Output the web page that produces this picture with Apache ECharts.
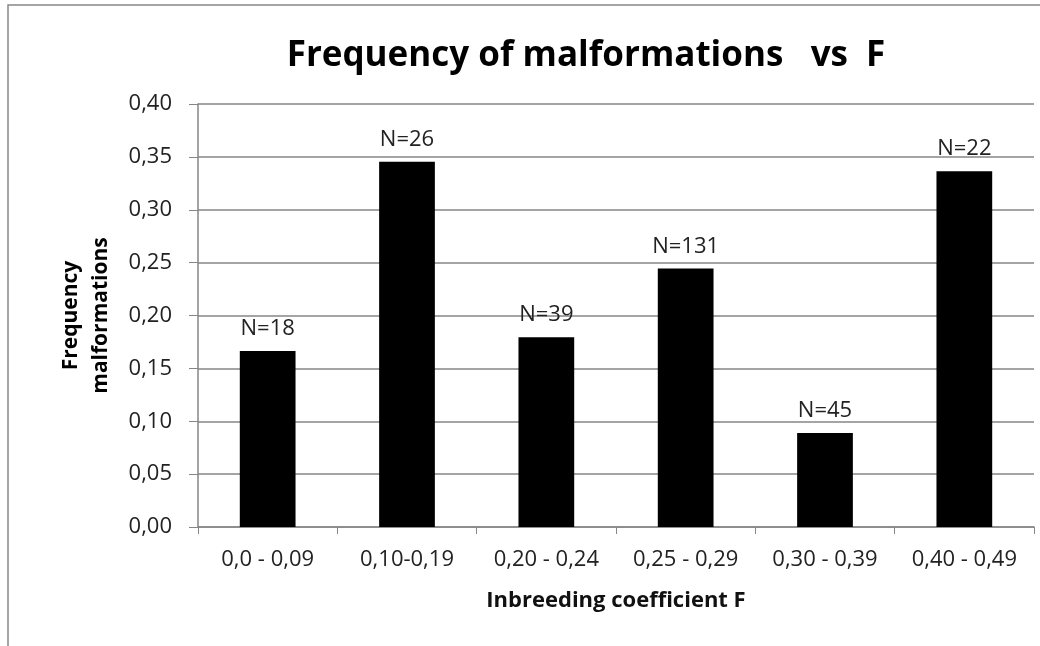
<!DOCTYPE html>
<html>
<head>
<meta charset="utf-8">
<script src="https://cdn.jsdelivr.net/npm/echarts@6/dist/echarts.min.js"></script>
<style>
  html, body { margin: 0; padding: 0; background: #fff; }
  #chart { width: 1040px; height: 646px; }
</style>
</head>
<body>
<div id="chart"></div>
<script>
const categories = ["0,0 - 0,09", "0,10-0,19", "0,20 - 0,24", "0,25 - 0,29", "0,30 - 0,39", "0,40 - 0,49"];
const frequency = [0.1665, 0.3455, 0.1795, 0.2445, 0.0889, 0.3365];
const sampleSize = [18, 26, 39, 131, 45, 22];

const chart = echarts.init(document.getElementById("chart"));
const font = "'Open Sans', sans-serif";

const option = {
  animation: false,
  backgroundColor: "#fff",
  graphic: [
    {
      type: "rect",
      shape: { x: 8, y: 5, width: 1060, height: 700 },
      style: { fill: "none", stroke: "#888", lineWidth: 1.5 },
    },
  ],
  title: {
    text: "Frequency of malformations   vs  F",
    left: 581,
    top: 34,
    textAlign: "center",
    textStyle: { fontFamily: font, fontSize: 35, fontWeight: "bold", color: "#000" },
  },
  grid: { left: 198, right: 6, top: 104, bottom: 119 },
  xAxis: {
    type: "category",
    data: categories,
    name: "Inbreeding coefficient F",
    nameLocation: "middle",
    nameGap: 63,
    nameTextStyle: { fontFamily: font, fontSize: 22, fontWeight: "bold", color: "#111" },
    axisLine: { lineStyle: { color: "#868686", width: 1.5 } },
    axisTick: { show: true, length: 7, lineStyle: { color: "#868686" } },
    axisLabel: { fontFamily: font, fontSize: 22, color: "#222", margin: 22 },
  },
  yAxis: {
    type: "value",
    min: 0,
    max: 0.4,
    interval: 0.05,
    name: "Frequency\nmalformations",
    nameLocation: "middle",
    nameGap: 82,
    nameRotate: 90,
    nameTextStyle: { fontFamily: font, fontSize: 21, fontWeight: "bold", color: "#000", lineHeight: 30 },
    axisLine: { show: true, lineStyle: { color: "#868686", width: 1.5 } },
    axisTick: { show: true, length: 9, lineStyle: { color: "#868686" } },
    splitLine: { lineStyle: { color: "#868686", width: 1.5 } },
    axisLabel: {
      fontFamily: font,
      fontSize: 22,
      color: "#222",
      margin: 26,
      formatter: (v) => v.toFixed(2).replace(".", ","),
    },
  },
  series: [
    {
      type: "bar",
      data: frequency,
      barWidth: "40%",
      itemStyle: { color: "#000" },
      label: {
        show: true,
        position: "top",
        distance: 11,
        fontFamily: font,
        fontSize: 22,
        color: "#222",
        formatter: (p) => "N=" + sampleSize[p.dataIndex],
      },
    },
  ],
};
chart.setOption(option);
window.addEventListener("resize", chart.resize);
</script>
</body>
</html>
